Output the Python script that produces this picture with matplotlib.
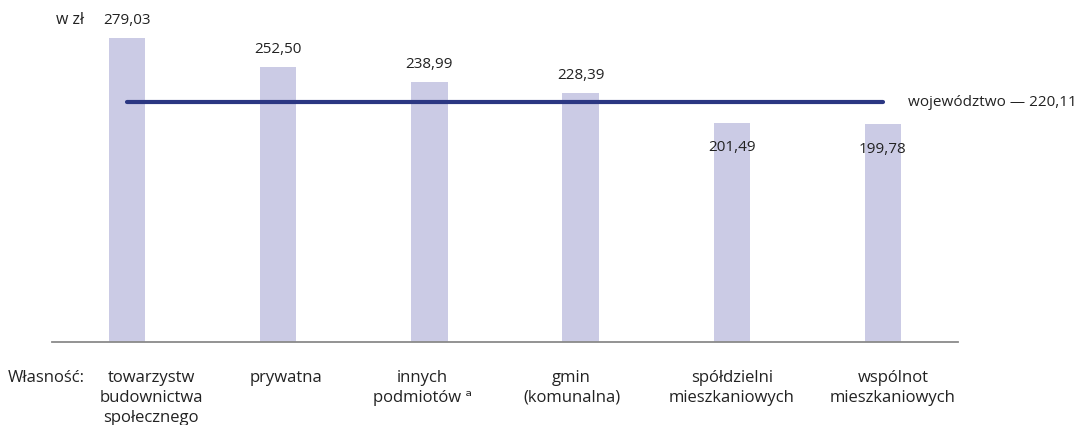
import matplotlib.pyplot as plt
from matplotlib.transforms import ScaledTranslation

plt.rcParams['font.family'] = ['Open Sans', 'DejaVu Sans']

# Dane
kategorie = ['towarzystw\nbudownictwa\nspołecznego', 'prywatna',
             'innych\npodmiotów ᵃ', 'gmin\n(komunalna)',
             'spółdzielni\nmieszkaniowych', 'wspólnot\nmieszkaniowych']
wartosci = [279.03, 252.50, 238.99, 228.39, 201.49, 199.78]
etykiety = ['279,03', '252,50', '238,99', '228,39', '201,49', '199,78']
wojewodztwo = 220.11
wojewodztwo_tekst = 'województwo — 220,11'

# przesunięcia podpisów kategorii względem słupków (piksele)
przesuniecia = [24, 8, -7, -9, 0, 10]

kolor_slupka = '#cbcbe5'
kolor_linii = '#2b3782'
kolor_tekstu = '#222222'

fig = plt.figure(figsize=(10.88, 4.25), dpi=100)
ax = fig.add_axes([52 / 1088, 83 / 425, 906 / 1088, 342 / 425])

x = list(range(len(wartosci)))
ax.bar(x, wartosci, width=0.24, color=kolor_slupka, zorder=1)
ax.plot([x[0], x[-1]], [wojewodztwo, wojewodztwo], color=kolor_linii,
        lw=3, solid_capstyle='round', zorder=2)

# Etykiety wartości
for xi, v, t in zip(x, wartosci, etykiety):
    dy = 12.5 if v > wojewodztwo else -18
    ax.annotate(t, (xi, v), xytext=(0, dy), textcoords='offset points',
                ha='center', va='center', fontsize=11, color=kolor_tekstu)

ax.annotate(wojewodztwo_tekst, (x[-1], wojewodztwo), xytext=(18, 0),
            textcoords='offset points', ha='left', va='center',
            fontsize=11, color=kolor_tekstu)

# Podpisy kategorii
for xi, k, dx in zip(x, kategorie, przesuniecia):
    tr = ax.get_xaxis_transform() + ScaledTranslation(dx / 100, -28 / 100,
                                                       fig.dpi_scale_trans)
    ax.text(xi, 0, k, transform=tr, ha='center', va='top', fontsize=12,
            color=kolor_tekstu, linespacing=1.33, multialignment='center')

ax.set_xlim(-0.497, 5.497)
ax.set_ylim(0, 314)
ax.set_yticks([])
ax.set_xticks([])
for s in ['top', 'right', 'left']:
    ax.spines[s].set_visible(False)
ax.spines['bottom'].set_color('#8a8a8a')
ax.spines['bottom'].set_linewidth(1.3)

fig.text(56 / 1088, 1 - 20 / 425, 'w zł', ha='left', va='center',
         fontsize=11.5, color=kolor_tekstu)
fig.text(8 / 1088, 1 - 378 / 425, 'Własność:', ha='left', va='center',
         fontsize=12, color=kolor_tekstu)

fig.savefig('out.png', dpi=100)
